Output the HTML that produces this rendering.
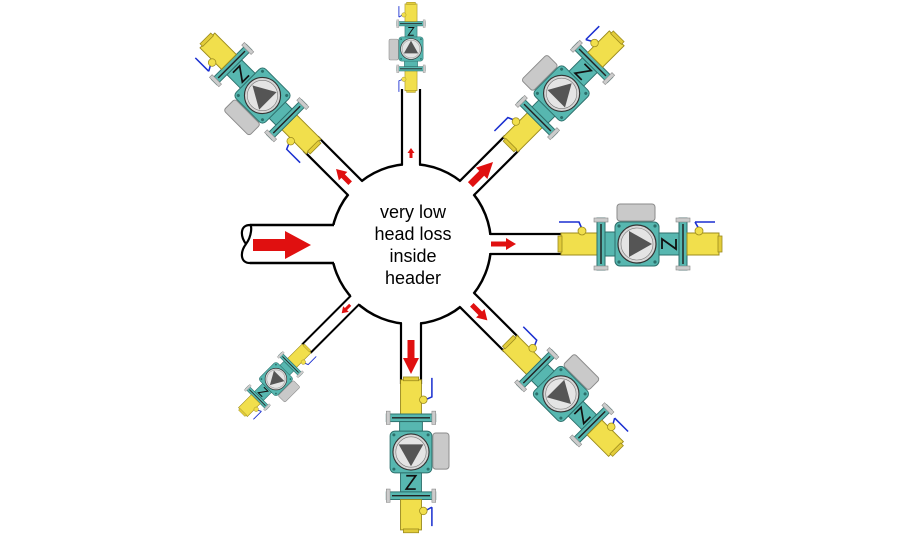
<!DOCTYPE html>
<html><head><meta charset="utf-8"><style>
html,body{margin:0;padding:0;background:#fff;}
svg{display:block;}
</style></head><body>
<svg width="900" height="550" viewBox="0 0 900 550" xmlns="http://www.w3.org/2000/svg">
<defs>
<g id="pump">
  <rect x="-20" y="-40" width="38" height="17" rx="3" fill="#c9c9c9" stroke="#8a8a8a" stroke-width="1"/>
  <path d="M-78 -22 L-58 -22 L-55 -15" fill="none" stroke="#1a2fd0" stroke-width="1.6"/>
  <path d="M58 -22 L78 -22 M58 -22 L62 -15" fill="none" stroke="#1a2fd0" stroke-width="1.6"/>
  <rect x="-76" y="-11" width="38" height="22" fill="#f1df4c" stroke="#9c8b1c" stroke-width="1"/>
  <rect x="-79" y="-8" width="4" height="16" fill="#e2cc3a" stroke="#9c8b1c" stroke-width="0.8"/>
  <circle cx="-55" cy="-13" r="4" fill="#f1df4c" stroke="#9c8b1c" stroke-width="0.8"/>
  <rect x="-40" y="-26" width="8" height="52" fill="#57b7b0" stroke="#2c6f6b" stroke-width="1"/>
  <rect x="-43" y="-26" width="14" height="4" fill="#ccc" stroke="#888" stroke-width="0.6"/>
  <rect x="-43" y="22" width="14" height="4" fill="#ccc" stroke="#888" stroke-width="0.6"/>
  <line x1="-36" y1="-20" x2="-36" y2="20" stroke="#222" stroke-width="1.5"/>
  <rect x="-32" y="-12" width="12" height="24" fill="#57b7b0" stroke="#2c6f6b" stroke-width="1"/>
  <rect x="-22" y="-22" width="44" height="44" rx="5" fill="#57b7b0" stroke="#2c6f6b" stroke-width="1"/>
  <circle cx="-18" cy="-18" r="1.6" fill="#2c6f6b"/><circle cx="18" cy="-18" r="1.6" fill="#2c6f6b"/>
  <circle cx="-18" cy="18" r="1.6" fill="#2c6f6b"/><circle cx="18" cy="18" r="1.6" fill="#2c6f6b"/>
  <circle cx="0" cy="0" r="19" fill="#d6d6d6" stroke="#333" stroke-width="1.2"/>
  <circle cx="0" cy="0" r="16" fill="#e4e4e4" stroke="#777" stroke-width="0.6"/>
  <polygon points="15,0 -8,-13 -8,13" fill="#555"/>
  <rect x="22" y="-11" width="20" height="22" fill="#57b7b0" stroke="#2c6f6b" stroke-width="1"/>
  <polyline points="27,-7 37,-7 27,7 37,7" fill="none" stroke="#111" stroke-width="1.8" transform="rotate(-90 32 0)"/>
  <rect x="42" y="-26" width="8" height="52" fill="#57b7b0" stroke="#2c6f6b" stroke-width="1"/>
  <rect x="39" y="-26" width="14" height="4" fill="#ccc" stroke="#888" stroke-width="0.6"/>
  <rect x="39" y="22" width="14" height="4" fill="#ccc" stroke="#888" stroke-width="0.6"/>
  <line x1="46" y1="-20" x2="46" y2="20" stroke="#222" stroke-width="1.5"/>
  <rect x="50" y="-11" width="32" height="22" fill="#f1df4c" stroke="#9c8b1c" stroke-width="1"/>
  <rect x="81" y="-8" width="4" height="16" fill="#e2cc3a" stroke="#9c8b1c" stroke-width="0.8"/>
  <circle cx="62" cy="-13" r="4" fill="#f1df4c" stroke="#9c8b1c" stroke-width="0.8"/>
</g>
</defs>

<circle cx="411" cy="244" r="80" fill="#fff" stroke="#000" stroke-width="2.5"/>

<rect x="243" y="225" width="100" height="38" fill="#fff"/>
<line x1="250" y1="225" x2="334" y2="225" stroke="#000" stroke-width="2.5"/>
<line x1="250" y1="263" x2="334" y2="263" stroke="#000" stroke-width="2.5"/>
<path d="M250 225 C240 225 240 236 246 244 C252 236 252 225 250 225 M246 244 C240 252 240 263 250 263" fill="none" stroke="#000" stroke-width="2.2"/>
<polygon points="253,239 285,239 285,231 311,245 285,259 285,251 253,251" fill="#e01010"/>

<g transform="translate(411,244) rotate(0)">
  <rect x="70" y="-9" width="93" height="18" fill="#fff"/>
  <line x1="79" y1="-10" x2="152" y2="-10" stroke="#000" stroke-width="2.2"/>
  <line x1="79" y1="10" x2="152" y2="10" stroke="#000" stroke-width="2.2"/>
  <polygon points="80,-2.5 95,-2.5 95,-6 105,0 95,6 95,2.5 80,2.5" fill="#e01010"/>
  <use href="#pump" transform="translate(226,0)"/>
</g>
<g transform="translate(411,244) rotate(45)">
  <rect x="70" y="-9" width="80" height="18" fill="#fff"/>
  <line x1="79" y1="-10" x2="142" y2="-10" stroke="#000" stroke-width="2.2"/>
  <line x1="79" y1="10" x2="142" y2="10" stroke="#000" stroke-width="2.2"/>
  <polygon points="86,-2.5 98,-2.5 98,-6 108,0 98,6 98,2.5 86,2.5" fill="#e01010"/>
  <use href="#pump" transform="translate(212,0) scale(0.95)"/>
</g>
<g transform="translate(411,244) rotate(90)">
  <rect x="70" y="-9" width="80" height="18" fill="#fff"/>
  <line x1="79" y1="-10" x2="140" y2="-10" stroke="#000" stroke-width="2.2"/>
  <line x1="79" y1="10" x2="140" y2="10" stroke="#000" stroke-width="2.2"/>
  <polygon points="96,-3.5 114,-3.5 114,-8 130,0 114,8 114,3.5 96,3.5" fill="#e01010"/>
  <use href="#pump" transform="translate(208,0) scale(0.95)"/>
</g>
<g transform="translate(411,244) rotate(135)">
  <rect x="70" y="-6" width="90" height="12" fill="#fff"/>
  <line x1="79" y1="-6" x2="148" y2="-6" stroke="#000" stroke-width="2"/>
  <line x1="79" y1="6" x2="148" y2="6" stroke="#000" stroke-width="2"/>
  <polygon points="86,-1.5 92,-1.5 92,-4 98,0 92,4 92,1.5 86,1.5" fill="#e01010"/>
  <use href="#pump" transform="translate(191,0) scale(0.57)"/>
</g>
<g transform="translate(411,244) rotate(-135)">
  <rect x="70" y="-9" width="80" height="18" fill="#fff"/>
  <line x1="79" y1="-10" x2="142" y2="-10" stroke="#000" stroke-width="2.2"/>
  <line x1="79" y1="10" x2="142" y2="10" stroke="#000" stroke-width="2.2"/>
  <polygon points="86,-2.5 96,-2.5 96,-6 106,0 96,6 96,2.5 86,2.5" fill="#e01010"/>
  <use href="#pump" transform="translate(210,0) scale(0.95)"/>
</g>
<g transform="translate(411,244) rotate(-90)">
  <rect x="70" y="-8" width="90" height="16" fill="#fff"/>
  <line x1="79" y1="-9" x2="155" y2="-9" stroke="#000" stroke-width="2.2"/>
  <line x1="79" y1="9" x2="155" y2="9" stroke="#000" stroke-width="2.2"/>
  <polygon points="86,-1.5 91,-1.5 91,-3.5 96,0 91,3.5 91,1.5 86,1.5" fill="#e01010"/>
  <use href="#pump" transform="translate(195,0) scale(0.55)"/>
</g>
<g transform="translate(411,244) rotate(-45)">
  <rect x="70" y="-9" width="80" height="18" fill="#fff"/>
  <line x1="79" y1="-10" x2="143" y2="-10" stroke="#000" stroke-width="2.2"/>
  <line x1="79" y1="10" x2="143" y2="10" stroke="#000" stroke-width="2.2"/>
  <polygon points="84,-3.5 100,-3.5 100,-8 116,0 100,8 100,3.5 84,3.5" fill="#e01010"/>
  <use href="#pump" transform="translate(213,0) scale(0.95)"/>
</g>

<g font-family="Liberation Sans, sans-serif" font-size="18" text-anchor="middle" fill="#000">
  <text x="413" y="218">very low</text>
  <text x="413" y="240">head loss</text>
  <text x="413" y="262">inside</text>
  <text x="413" y="284">header</text>
</g>
</svg>
</body></html>
